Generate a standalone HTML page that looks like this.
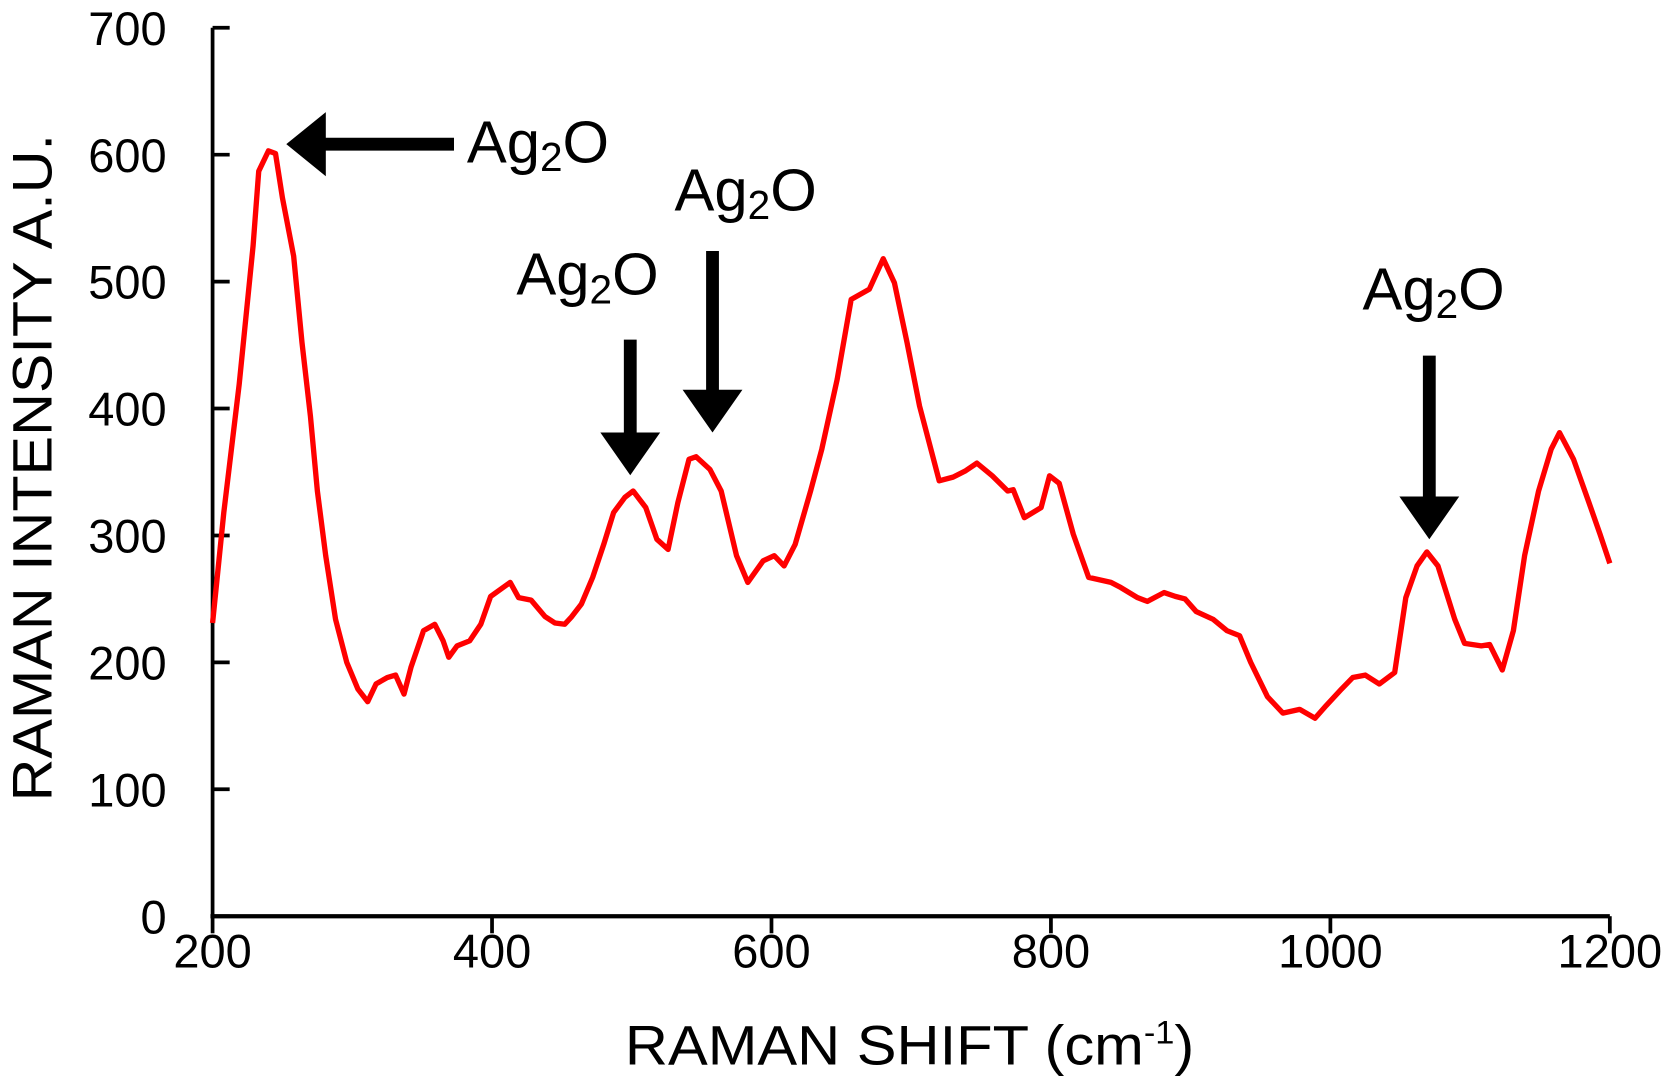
<!DOCTYPE html>
<html><head><meta charset="utf-8"><style>
html,body{margin:0;padding:0;background:#fff;}
svg{display:block;font-family:"Liberation Sans",Arial,sans-serif;}
</style></head><body>
<svg id="chart" width="1675" height="1086" viewBox="0 0 1568 1017" preserveAspectRatio="none" xmlns="http://www.w3.org/2000/svg">
<g id="axes"></g>
<path id="series" fill="none" stroke="#ff0000" stroke-width="5" stroke-linejoin="round"/>
<g id="ann"></g>
<text x="0" y="0" font-size="52" text-anchor="middle" textLength="625" lengthAdjust="spacingAndGlyphs" transform="translate(48,438) rotate(-90)">RAMAN INTENSITY  A.U.</text>
<text x="585" y="997" font-size="52" textLength="533" lengthAdjust="spacingAndGlyphs">RAMAN SHIFT (cm<tspan font-size="30" dy="-20">-1</tspan><tspan dy="20">)</tspan></text>
</svg>
<script>
const shifts=[200,208,219,229,233,240,245,250,258,264,270,275,281,288,296,304,311,317,325,331,337,342,351,359,365,369,375,384,392,399,413,419,428,438,445,452,457,464,472,480,487,495,501,510,518,526,533,541,546,556,564,575,583,594,602,609,617,628,636,647,657,670,680,688,697,706,720,730,739,747,758,769,773,781,793,799,806,816,827,843,850,862,869,881,889,896,904,916,926,935,943,955,966,978,989,997,1008,1016,1025,1035,1046,1054,1062,1069,1077,1089,1096,1108,1114,1123,1131,1139,1149,1158,1164,1174,1185,1193,1200];
const intensity=[231,318,419,528,587,603,601,566,520,452,394,335,284,234,200,179,169,183,188,190,175,196,225,230,217,204,213,217,230,252,263,251,249,236,231,230,236,246,267,293,318,330,335,322,297,289,326,360,362,352,335,284,263,280,284,276,293,335,368,423,486,494,518,499,452,402,343,346,351,357,347,335,336,314,322,347,341,301,267,263,259,251,248,255,252,250,240,234,225,221,200,173,160,163,156,166,179,188,190,183,192,251,276,287,276,234,215,213,214,194,225,284,335,368,381,360,326,301,278];
const xTicks=[200,400,600,800,1000,1200];
const yTicks=[0,100,200,300,400,500,600,700];
const X0=199,X1=1507,Y0=858,Y1=26;
const xs=v=>X0+(v-200)/1000*(X1-X0);
const ys=v=>Y0-v/700*(Y0-Y1);
const NS="http://www.w3.org/2000/svg";
const axes=document.getElementById('axes');
function mk(tag,attrs,parent){const e=document.createElementNS(NS,tag);for(const k in attrs)e.setAttribute(k,attrs[k]);parent.appendChild(e);return e;}
let e=mk('line',{x1:X0,y1:Y1,x2:X0,y2:Y0+2,stroke:'#000','stroke-width':3.5},axes);


e=mk('line',{x1:X0-2,y1:Y0,x2:X1,y2:Y0,stroke:'#000','stroke-width':4},axes);


yTicks.forEach(t=>{
  let l=mk('line',{x1:X0,y1:ys(t),x2:X0+16,y2:ys(t),stroke:'#000','stroke-width':3.5},axes);
  
  
  let tx=mk('text',{x:156,y:ys(t)+16,'font-size':44,'text-anchor':'end'},axes);
  tx.textContent=t;
  
  
});
xTicks.forEach(t=>{
  let l=mk('line',{x1:xs(t),y1:Y0,x2:xs(t),y2:Y0+16,stroke:'#000','stroke-width':3.5},axes);
  
  
  let tx=mk('text',{x:xs(t),y:Y0+48,'font-size':44,'text-anchor':'middle'},axes);
  tx.textContent=t;
  
  
});
document.getElementById('series').setAttribute('d',shifts.map((s,i)=>(i?'L':'M')+xs(s).toFixed(1)+','+ys(intensity[i]).toFixed(1)).join(''));
const ann=document.getElementById('ann');
function label(cx,by,anchor){
  let t=mk('text',{x:cx,y:by,'font-size':56,'text-anchor':anchor},ann);
  t.innerHTML='Ag<tspan font-size="38" dy="8">2</tspan><tspan dy="-8">O</tspan>';
  
  
}
function down(x,y0,yh,yt){
  let p=mk('path',{d:`M${x-6},${y0}H${x+6}V${yh}H${x+28}L${x},${yt}L${x-28},${yh}H${x-6}Z`,fill:'#000'},ann);
  
  
}
let la=mk('path',{d:'M425,129H305V105L268,135L305,165V141H425Z',fill:'#000'},ann);


label(437,152,'start');
down(590,318,405,445);
label(550,276,'middle');
down(667,235,365,405);
label(698,197,'middle');
down(1338,333,465,505);
label(1342,290,'middle');
</script>
</body></html>
